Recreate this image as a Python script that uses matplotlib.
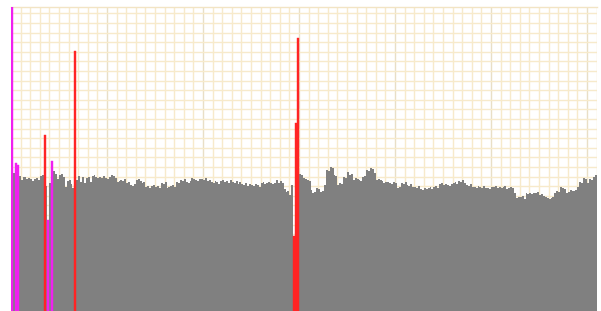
import numpy as np
import matplotlib
matplotlib.use("Agg")
import matplotlib.pyplot as plt

# bin heights (one value per bin)
counts = [
    160.0, 72.0, 77.1, 76.0,
    70.3, 68.2, 69.8, 69.8, 68.8, 69.3, 68.8, 67.7, 68.8, 69.3, 68.2, 70.3, 70.8,
    91.7, 65.1, 47.4, 66.7, 78.1,
    72.9, 71.4, 68.8, 70.8, 71.4, 69.8, 64.6, 67.7, 68.2, 66.1, 64.1,
    135.4,
    68.2, 70.3, 67.2, 69.8, 66.7, 69.3, 69.8, 67.2, 70.3, 70.8, 69.8, 69.3,
    69.8, 69.3, 70.3, 69.3, 68.8, 69.8, 70.8, 70.3, 69.3, 67.2, 67.7, 68.2, 67.7,
    68.8, 66.7, 67.2, 65.6, 65.1, 66.1, 68.2, 68.8, 67.7, 66.7, 67.2, 64.6, 65.1,
    64.1, 65.1, 65.6, 64.6, 65.1, 64.1, 66.7, 66.1, 67.2, 64.1, 64.6, 65.1, 65.6,
    64.6, 67.2, 66.7, 68.2, 67.7, 68.8, 67.2, 66.7, 67.7, 69.3, 68.8, 68.2, 67.7, 68.8,
    68.8, 68.2, 69.3, 67.7, 68.2, 67.2, 66.7, 67.7, 67.2, 66.1, 67.7, 68.2, 67.2,
    67.7, 66.7, 68.2, 67.2, 66.7, 67.7, 66.1, 67.2, 66.1, 65.6, 66.7, 65.1, 66.1,
    65.6, 65.1, 66.1, 65.6, 64.6, 66.7, 67.2, 66.1, 66.7, 67.2, 66.7, 66.1, 66.7,
    68.2, 66.7, 67.7, 66.7, 63.5, 62.0, 62.5, 60.4, 65.6,
    39.1, 97.9, 142.2,
    71.4, 70.8, 69.3, 68.8, 68.2, 67.7, 63.0, 61.5, 62.0, 64.1, 63.5, 62.0, 62.5,
    65.6, 73.4, 72.9, 75.0, 74.5, 70.8, 70.3, 65.6, 66.7, 66.1, 69.8, 69.3, 72.4,
    70.8, 71.4, 68.2, 69.3, 68.8, 68.2, 67.7, 69.8, 70.3, 73.4, 72.9, 74.5, 74.0,
    71.9, 68.2, 68.8, 68.2, 67.7, 66.7, 67.2, 67.2, 66.7, 66.1, 67.2, 66.7, 64.1, 64.6,
    66.7, 66.1, 67.2, 65.6, 65.1, 66.1, 64.6, 64.6, 64.1, 65.1, 63.5, 63.0, 64.1,
    63.5, 64.1, 64.6, 63.5, 64.6, 65.1, 64.1, 66.1, 66.7, 65.6, 66.1, 65.6, 65.1,
    66.1, 66.7, 67.2, 66.1, 67.7, 67.2, 68.2, 66.7, 65.6, 65.1, 66.1, 64.6, 64.6,
    64.1, 65.1, 64.6, 64.1, 65.1, 64.1, 64.1, 63.5, 64.6, 64.6, 65.1, 64.1, 64.6,
    64.1, 64.6, 65.1, 63.5, 64.1, 64.6, 64.1, 61.5, 58.9, 59.4,
    59.4, 59.9, 58.3, 61.5, 60.9, 61.5, 60.9, 61.5, 61.5, 62.0,
    60.4, 60.9, 59.9, 59.4, 58.9, 58.3, 58.9, 59.4, 61.5, 62.5,
    62.0, 64.6, 64.1, 63.5, 61.5, 62.0, 63.0, 62.5, 62.5, 63.0,
    64.6, 67.2, 66.7, 69.3, 68.8, 66.7, 68.8, 68.2, 69.8, 70.8,
]
red_bins = [17, 33, 147, 148, 149]
magenta_bins = [0, 2, 3, 19, 21]

counts = np.array(counts)
x = np.arange(len(counts))
special = set(red_bins) | set(magenta_bins)
gray_bins = [i for i in x if i not in special]

fig = plt.figure(figsize=(6.01, 3.11), dpi=100)
ax = fig.add_axes([11 / 601, 0, 586 / 601, 304 / 311])

ax.bar(x[gray_bins], counts[gray_bins], width=1.0, align='edge',
       color='#808080', linewidth=0, antialiased=False, zorder=3)
ax.bar(x[red_bins], counts[red_bins], width=1.0, align='edge',
       color='#ff2424', edgecolor='#ff2424', linewidth=0.3, zorder=4)
ax.bar(x[magenta_bins], counts[magenta_bins], width=1.0, align='edge',
       color='#f020f0', edgecolor='#f020f0', linewidth=0.3, zorder=4)

ax.set_xlim(0, 305.2)
ax.set_ylim(0, 158.3)

ax.set_xticks(np.arange(0, 306, 50))
ax.set_xticks(np.arange(0, 306, 5), minor=True)
ax.set_yticks(np.arange(0, 159, 5))
ax.tick_params(which='both', length=0, labelbottom=False, labelleft=False)

ax.grid(which='minor', axis='x', color='#f7eacb', linewidth=1.0, zorder=0)
ax.grid(which='major', axis='x', color='#e9dfc6', linewidth=1.0, zorder=0)
ax.grid(which='major', axis='y', color='#f7eacb', linewidth=1.0, zorder=0)
ax.set_axisbelow(True)

for side in ['left', 'right', 'bottom']:
    ax.spines[side].set_visible(False)
ax.spines['top'].set_color('#f2e4c4')
ax.spines['top'].set_linewidth(1.0)

fig.savefig('out.png', dpi=100)
